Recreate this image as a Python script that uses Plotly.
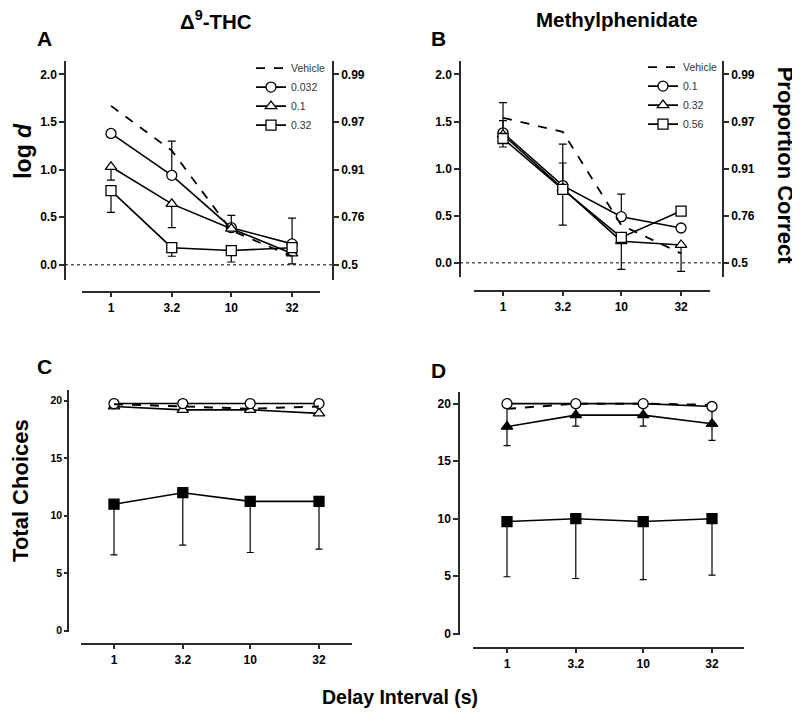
import plotly.graph_objects as go

# delay intervals (s)
delays = [1, 3.2, 10, 32]
delay_labels = ["1", "3.2", "10", "32"]

# panel A - THC, log d
a_names = ["Vehicle", "0.032", "0.1", "0.32"]
a_vehicle = [1.67, 1.20, 0.36, 0.09]
a_032 = [1.38, 0.94, 0.39, 0.22]
a_032_up = [0, 0.36, 0.13, 0.27]
a_01 = [1.03, 0.64, 0.38, 0.12]
a_01_lo = [0.14, 0.25, 0, 0.11]
a_032b = [0.78, 0.18, 0.15, 0.18]
a_032b_lo = [0.23, 0.09, 0.12, 0]

# panel B - methylphenidate, log d
b_names = ["Vehicle", "0.1", "0.32", "0.56"]
b_vehicle = [1.54, 1.39, 0.40, 0.10]
b_01 = [1.38, 0.82, 0.49, 0.37]
b_01_up = [0.32, 0.44, 0.24, 0]
b_032 = [1.36, 0.79, 0.23, 0.19]
b_032_up = [0.15, 0.27, 0, 0]
b_032_lo = [0, 0, 0.30, 0.28]
b_056 = [1.32, 0.78, 0.27, 0.55]
b_056_lo = [0.09, 0.38, 0, 0]

# panel C - THC, total choices
c_vehicle = [19.7, 19.5, 19.3, 19.5]
c_032 = [19.75, 19.75, 19.75, 19.75]
c_01 = [19.5, 19.2, 19.2, 18.9]
c_032b = [11.0, 12.0, 11.25, 11.25]
c_032b_lo = [4.4, 4.55, 4.45, 4.15]

# panel D - methylphenidate, total choices
d_vehicle = [19.55, 20.0, 20.0, 19.9]
d_01 = [20.0, 20.0, 20.0, 19.75]
d_032 = [18.0, 19.0, 19.0, 18.25]
d_032_err = [1.65, 0.95, 0.95, 1.45]
d_056 = [9.75, 10.0, 9.75, 10.0]
d_056_lo = [4.8, 5.2, 5.05, 4.9]

# right axis labels (proportion correct for log d 0..2)
logd_ticks = [0, 0.5, 1.0, 1.5, 2.0]
prop_labels = ["0.5", "0.76", "0.91", "0.97", "0.99"]

# page has an 8px body margin, so the figure is drawn 8px in and 8px down
OFF = 8
W, H = 800 - OFF, 723 - OFF
def fx(p):
    return (p - OFF) / W
def fy(p):
    return 1 - (p - OFF) / H

FONT = "Liberation Sans"
AX = "#2b2b2b"

fig = go.Figure()

def mk(symbol, fill):
    return dict(symbol=symbol, size=10, color=fill, line=dict(color="black", width=1.3))

def err(up, lo, w=4):
    return dict(type="data", symmetric=False, array=up, arrayminus=lo,
                color="black", thickness=1.2, width=w)

zeros = [0, 0, 0, 0]

# ---- panel A
fig.add_trace(go.Scatter(x=delays, y=a_vehicle, name=a_names[0], mode="lines",
                         line=dict(color="black", width=1.8, dash="dash"),
                         xaxis="x", yaxis="y2", legend="legend"))
fig.add_trace(go.Scatter(x=delays, y=a_032, name=a_names[1], mode="lines+markers",
                         line=dict(color="black", width=1.6), marker=mk("circle", "white"),
                         error_y=err(a_032_up, zeros), xaxis="x", yaxis="y", legend="legend"))
fig.add_trace(go.Scatter(x=delays, y=a_01, name=a_names[2], mode="lines+markers",
                         line=dict(color="black", width=1.6), marker=mk("triangle-up", "white"),
                         error_y=err(zeros, a_01_lo), xaxis="x", yaxis="y", legend="legend"))
fig.add_trace(go.Scatter(x=delays, y=a_032b, name=a_names[3], mode="lines+markers",
                         line=dict(color="black", width=1.6), marker=mk("square", "white"),
                         error_y=err(zeros, a_032b_lo), xaxis="x", yaxis="y", legend="legend"))

# ---- panel B
fig.add_trace(go.Scatter(x=delays, y=b_vehicle, name=b_names[0], mode="lines",
                         line=dict(color="black", width=1.8, dash="dash"),
                         xaxis="x2", yaxis="y4", legend="legend2"))
fig.add_trace(go.Scatter(x=delays, y=b_01, name=b_names[1], mode="lines+markers",
                         line=dict(color="black", width=1.6), marker=mk("circle", "white"),
                         error_y=err(b_01_up, zeros), xaxis="x2", yaxis="y3", legend="legend2"))
fig.add_trace(go.Scatter(x=delays, y=b_032, name=b_names[2], mode="lines+markers",
                         line=dict(color="black", width=1.6), marker=mk("triangle-up", "white"),
                         error_y=err(b_032_up, b_032_lo), xaxis="x2", yaxis="y3", legend="legend2"))
fig.add_trace(go.Scatter(x=delays, y=b_056, name=b_names[3], mode="lines+markers",
                         line=dict(color="black", width=1.6), marker=mk("square", "white"),
                         error_y=err(zeros, b_056_lo), xaxis="x2", yaxis="y3", legend="legend2"))

# ---- panel C
fig.add_trace(go.Scatter(x=delays, y=c_032b, mode="lines+markers", showlegend=False,
                         line=dict(color="black", width=1.6), marker=mk("square", "black"),
                         error_y=err(zeros, c_032b_lo, 3.5), xaxis="x3", yaxis="y5"))
fig.add_trace(go.Scatter(x=delays, y=c_01, mode="lines+markers", showlegend=False,
                         line=dict(color="black", width=1.6), marker=mk("triangle-up", "white"),
                         xaxis="x3", yaxis="y5"))
fig.add_trace(go.Scatter(x=delays, y=c_032, mode="lines+markers", showlegend=False,
                         line=dict(color="black", width=1.6), marker=mk("circle", "white"),
                         xaxis="x3", yaxis="y5"))
fig.add_trace(go.Scatter(x=delays, y=c_vehicle, mode="lines", showlegend=False,
                         line=dict(color="black", width=2, dash="dash"),
                         xaxis="x3", yaxis="y5"))

# ---- panel D
fig.add_trace(go.Scatter(x=delays, y=d_056, mode="lines+markers", showlegend=False,
                         line=dict(color="black", width=1.6), marker=mk("square", "black"),
                         error_y=err(zeros, d_056_lo, 3.5), xaxis="x4", yaxis="y6"))
fig.add_trace(go.Scatter(x=delays, y=d_032, mode="lines+markers", showlegend=False,
                         line=dict(color="black", width=1.6), marker=mk("triangle-up", "black"),
                         error_y=err(d_032_err, d_032_err, 3.5), xaxis="x4", yaxis="y6"))
fig.add_trace(go.Scatter(x=delays, y=d_vehicle, mode="lines", showlegend=False,
                         line=dict(color="black", width=2, dash="dash"),
                         xaxis="x4", yaxis="y6"))
fig.add_trace(go.Scatter(x=delays, y=d_01, mode="lines+markers", showlegend=False,
                         line=dict(color="black", width=1.6), marker=mk("circle", "white"),
                         xaxis="x4", yaxis="y6"))

tickf = dict(family=FONT, size=12, color="black", weight="bold")
tickf_small = dict(family=FONT, size=10.5, color="black", weight="bold")

def xax(x0, x1, one_px, per_dec, ypos):
    return dict(type="log", domain=[fx(x0), fx(x1)],
                range=[(x0 - one_px) / per_dec, (x1 - one_px) / per_dec],
                anchor="free", position=fy(ypos), showline=True, linecolor=AX, linewidth=1.5,
                ticks="outside", ticklen=5, tickcolor=AX, tickwidth=1.5,
                tickvals=delays, ticktext=delay_labels, tickfont=tickf,
                showgrid=False, zeroline=False, fixedrange=True)

def yax(top, bot, zero_px, unit_px, xpos, vals, fmt, font, side="left"):
    return dict(domain=[fy(bot), fy(top)],
                range=[-(bot - zero_px) / unit_px, (zero_px - top) / unit_px],
                anchor="free", position=fx(xpos), side=side,
                showline=True, linecolor=AX, linewidth=1.5,
                ticks="outside", ticklen=5, tickcolor=AX, tickwidth=1.5,
                tickvals=vals, tickformat=fmt, tickfont=font,
                showgrid=False, zeroline=False, fixedrange=True)

lay = {}
lay["xaxis"] = xax(82, 320, 111, 120.3, 294)
lay["yaxis"] = yax(61, 282, 267, 96, 65, logd_ticks, ".1f", tickf)
lay["yaxis2"] = yax(61, 282, 267, 96, 333, logd_ticks, "", tickf, side="right")
lay["yaxis2"].update(overlaying="y", ticktext=prop_labels)

lay["xaxis2"] = xax(474, 710, 503, 118.3, 293)
lay["yaxis3"] = yax(61, 279, 265, 95, 460, logd_ticks, ".1f", tickf)
lay["yaxis4"] = yax(61, 279, 265, 95, 723, logd_ticks, "", tickf, side="right")
lay["yaxis4"].update(overlaying="y3", ticktext=prop_labels)

tc_ticks = [0, 5, 10, 15, 20]
lay["xaxis3"] = xax(81, 352, 114, 136.2, 649)
lay["yaxis5"] = yax(393, 637, 636, 11.6, 68, tc_ticks, "d", tickf_small)
lay["yaxis5"].update(ticklen=3)
lay["xaxis4"] = xax(473, 744, 507, 136.2, 653)
lay["yaxis6"] = yax(395, 640, 639, 11.6, 459, tc_ticks, "d", tickf)

fig.update_layout(**lay)

# dotted chance lines
fig.add_shape(type="line", xref="paper", yref="y", x0=fx(65), x1=fx(333), y0=0, y1=0,
              line=dict(color="black", width=1, dash="dot"))
fig.add_shape(type="line", xref="paper", yref="y3", x0=fx(460), x1=fx(723), y0=0, y1=0,
              line=dict(color="black", width=1, dash="dot"))

def ann(text, x, y, size, angle=0):
    fig.add_annotation(text=text, x=fx(x), y=fy(y), xref="paper", yref="paper",
                       showarrow=False, textangle=angle, xanchor="center", yanchor="middle",
                       font=dict(family=FONT, size=size, color="black", weight="bold"))

ann("Δ<sup>9</sup>-THC", 216, 20, 20.5)
ann("Methylphenidate", 617, 20, 20.5)
ann("A", 44, 39, 21)
ann("B", 438, 39, 21)
ann("C", 44, 370, 21)
ann("D", 438, 374, 21)
ann("log <i>d</i>", 23, 152, 23, -90)
ann("Proportion Correct", 785, 166, 22, 90)
ann("Total Choices", 21, 495, 22, -90)
ann("Delay Interval (s)", 400, 703, 19.5)

legfont = dict(family=FONT, size=10.5, color="#333333")
fig.update_layout(
    width=W, height=H, margin=dict(l=0, r=0, t=0, b=0),
    paper_bgcolor="white", plot_bgcolor="rgba(0,0,0,0)",
    legend=dict(x=fx(251), y=fy(54), xanchor="left", yanchor="top", font=legfont,
                bgcolor="rgba(0,0,0,0)", itemwidth=30, tracegroupgap=0),
    legend2=dict(x=fx(643), y=fy(53), xanchor="left", yanchor="top", font=legfont,
                 bgcolor="rgba(0,0,0,0)", itemwidth=30, tracegroupgap=0),
)

fig.write_html("out.html")
